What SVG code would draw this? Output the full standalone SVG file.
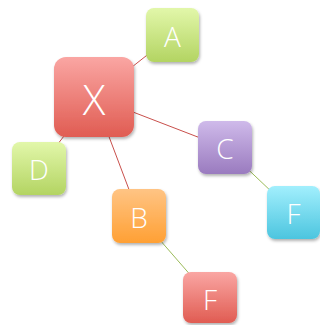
<svg xmlns="http://www.w3.org/2000/svg" width="320" height="325" viewBox="0 0 320 325">
<defs>
<linearGradient id="gGreen" x1="0" y1="0" x2="0" y2="1"><stop offset="0" stop-color="#e2f7aa"/><stop offset="1" stop-color="#b3d462"/></linearGradient>
<linearGradient id="gRed" x1="0" y1="0" x2="0" y2="1"><stop offset="0" stop-color="#faa6a3"/><stop offset="1" stop-color="#e05c52"/></linearGradient>
<linearGradient id="gPurple" x1="0" y1="0" x2="0" y2="1"><stop offset="0" stop-color="#cfbaea"/><stop offset="1" stop-color="#9a7bbf"/></linearGradient>
<linearGradient id="gCyan" x1="0" y1="0" x2="0" y2="1"><stop offset="0" stop-color="#a2effd"/><stop offset="1" stop-color="#4cc5df"/></linearGradient>
<linearGradient id="gOrange" x1="0" y1="0" x2="0" y2="1"><stop offset="0" stop-color="#ffc484"/><stop offset="1" stop-color="#ffa034"/></linearGradient>
<filter id="sh" x="-20%" y="-20%" width="150%" height="150%"><feDropShadow dx="1" dy="2" stdDeviation="1.5" flood-color="#000" flood-opacity="0.3"/></filter>
</defs>
<style>
.n{filter:url(#sh)}
.t{fill:#fff;font-family:"Open Sans","Liberation Sans",sans-serif;font-weight:300;text-anchor:middle;dominant-baseline:central}
.s{font-size:28px}
.l{font-size:42px}
.er{stroke:#c9504c;stroke-width:1}
.eg{stroke:#9bbb59;stroke-width:1}
</style>
<g id="connectors">
<line class="er" x1="94" y1="97" x2="172.5" y2="35"/>
<line class="er" x1="94" y1="97" x2="225" y2="147.5"/>
<line class="er" x1="94" y1="97" x2="39" y2="168.5"/>
<line class="er" x1="94" y1="97" x2="139" y2="216"/>
<line class="eg" x1="225" y1="147.5" x2="293.5" y2="212.5"/>
<line class="eg" x1="139" y1="216" x2="210" y2="297.5"/>
</g>
<g id="nodeA"><rect class="n" x="146" y="8" width="53" height="54" rx="8" fill="url(#gGreen)"/><text class="t s" x="172.5" y="36">A</text></g>
<g id="nodeX"><rect class="n" x="54" y="57" width="80" height="80" rx="12" fill="url(#gRed)"/><text class="t l" x="94" y="98">X</text></g>
<g id="nodeC"><rect class="n" x="198" y="121" width="54" height="53" rx="8" fill="url(#gPurple)"/><text class="t s" x="225" y="148">C</text></g>
<g id="nodeD"><rect class="n" x="12" y="142" width="54" height="53" rx="8" fill="url(#gGreen)"/><text class="t s" x="39" y="169">D</text></g>
<g id="nodeB"><rect class="n" x="112" y="189" width="54" height="54" rx="8" fill="url(#gOrange)"/><text class="t s" x="139" y="217">B</text></g>
<g id="nodeF1"><rect class="n" x="267" y="186" width="53" height="53" rx="8" fill="url(#gCyan)"/><text class="t s" x="293.5" y="213">F</text></g>
<g id="nodeF2"><rect class="n" x="183" y="272" width="54" height="51" rx="8" fill="url(#gRed)"/><text class="t s" x="210" y="299">F</text></g>
</svg>
